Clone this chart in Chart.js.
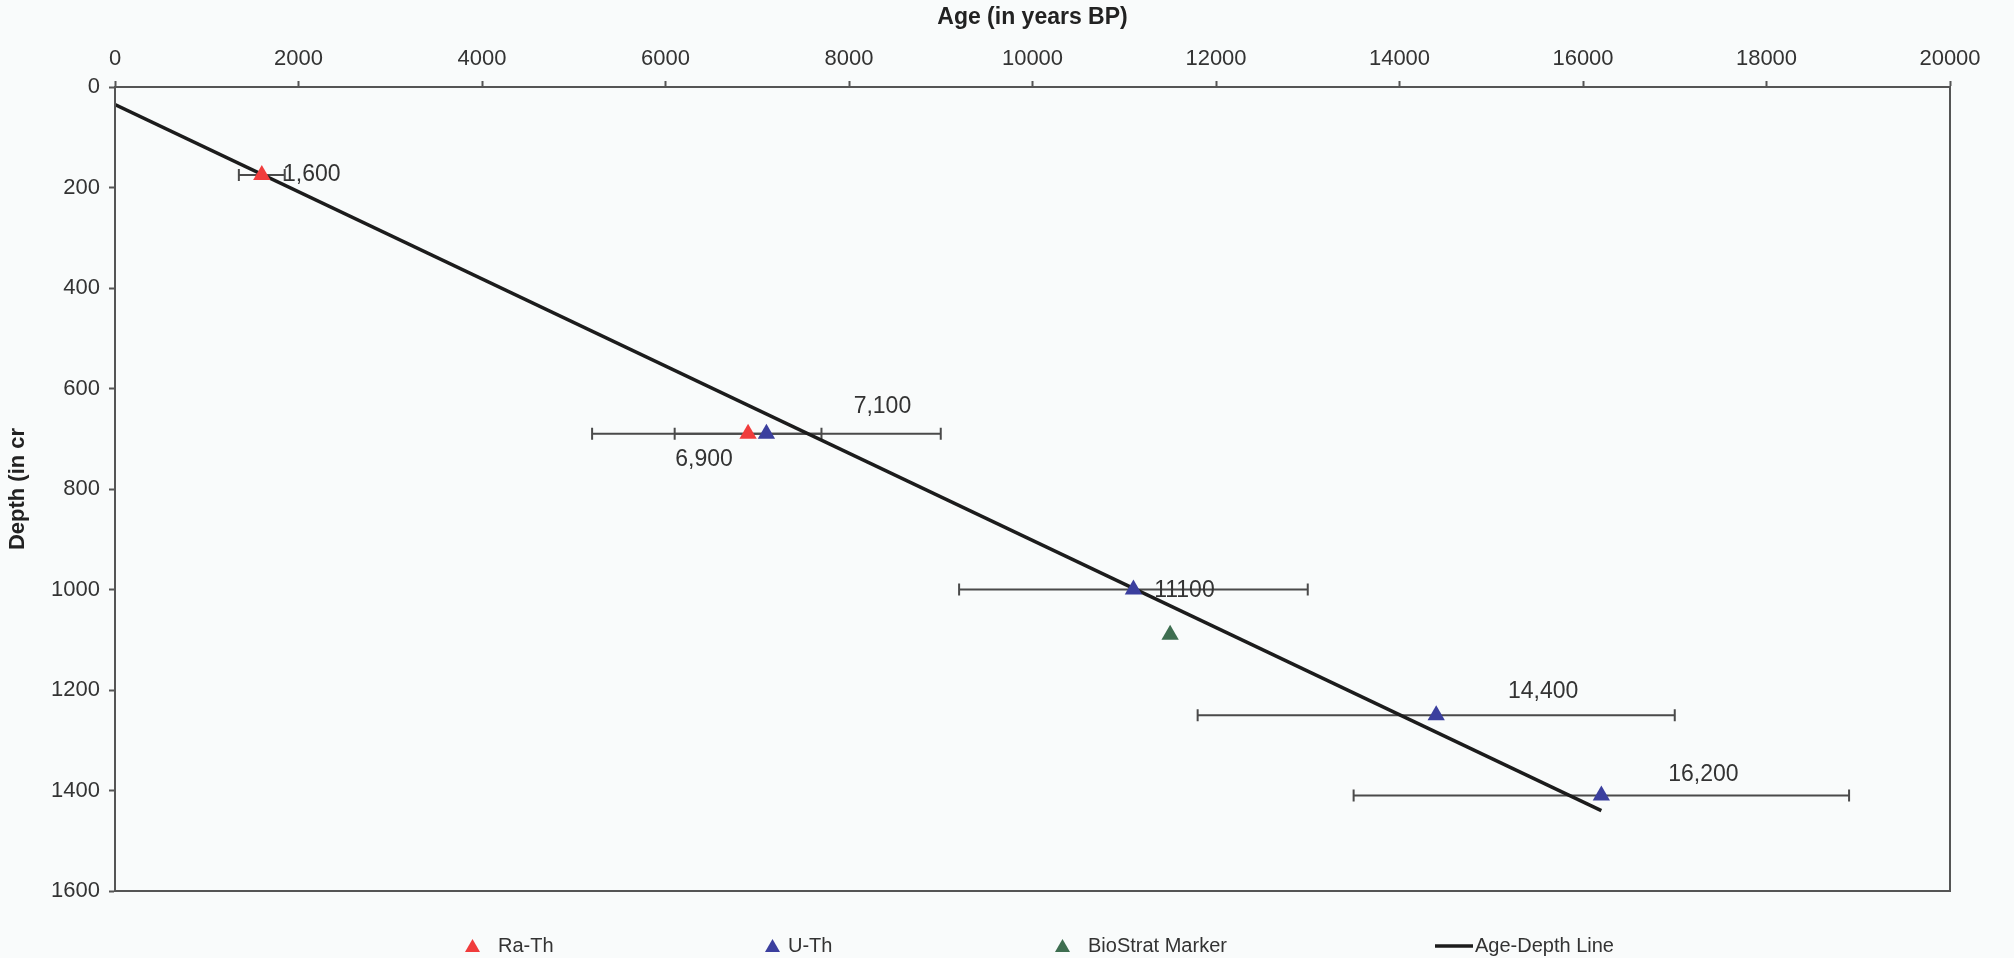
<!DOCTYPE html>
<html>
<head>
<meta charset="utf-8">
<title>Age-Depth model</title>
<script src="https://cdn.jsdelivr.net/npm/chart.js@4.4.1/dist/chart.umd.min.js"></script>
<style>
  html, body { margin: 0; padding: 0; background: #f9fbfb; }
  #wrap { width: 2014px; height: 958px; }
</style>
</head>
<body>
<div id="wrap"><canvas id="ageChart" width="2014" height="958"></canvas></div>
<script>
// axis ticks
const ageTicks = [0, 2000, 4000, 6000, 8000, 10000, 12000, 14000, 16000, 18000, 20000];
const depthTicks = [0, 200, 400, 600, 800, 1000, 1200, 1400, 1600];

// Ra-Th dates: age (yr BP), depth (cm), +/- age error, label
const raThAge = [1600, 6900];
const raThDepth = [175, 690];
const raThErr = [250, 800];
const raThLabels = ["1,600", "6,900"];

// U-Th dates
const uThAge = [7100, 11100, 14400, 16200];
const uThDepth = [690, 1000, 1250, 1410];
const uThErr = [1900, 1900, 2600, 2700];
const uThLabels = ["7,100", "11100", "14,400", "16,200"];

// biostratigraphic marker
const bioAge = [11500];
const bioDepth = [1090];

// fitted age-depth line
const lineAge = [0, 16200];
const lineDepth = [35, 1440];

const toPoints = (xs, ys) => xs.map((x, i) => ({ x: x, y: ys[i] }));

Chart.defaults.font.family = "'Liberation Sans', Arial, sans-serif";
Chart.defaults.color = "#333";

// horizontal error bars, drawn under the markers
const errorBars = {
    id: "errorBars",
    beforeDatasetsDraw(chart) {
        const ctx = chart.ctx;
        const xs = chart.scales.x, ys = chart.scales.y;
        ctx.save();
        ctx.strokeStyle = "#4a4a4a";
        ctx.lineWidth = 2;
        chart.data.datasets.forEach(ds => {
            if (!ds.xErr) return;
            ds.data.forEach((p, j) => {
                const y = ys.getPixelForValue(p.y);
                const x1 = xs.getPixelForValue(p.x - ds.xErr[j]);
                const x2 = xs.getPixelForValue(p.x + ds.xErr[j]);
                ctx.beginPath();
                ctx.moveTo(x1, y); ctx.lineTo(x2, y);
                ctx.moveTo(x1, y - 6); ctx.lineTo(x1, y + 6);
                ctx.moveTo(x2, y - 6); ctx.lineTo(x2, y + 6);
                ctx.stroke();
            });
        });
        ctx.restore();
    }
};

// value labels next to the dated points
const pointLabels = {
    id: "pointLabels",
    afterDatasetsDraw(chart, args, opts) {
        const ctx = chart.ctx;
        ctx.save();
        ctx.font = "23px 'Liberation Sans', Arial, sans-serif";
        ctx.fillStyle = "#333";
        ctx.textAlign = "center";
        ctx.textBaseline = "middle";
        chart.data.datasets.forEach((ds, i) => {
            if (!ds.pointLabels) return;
            const meta = chart.getDatasetMeta(i);
            meta.data.forEach((pt, j) => {
                const off = opts.offsets[ds.label][j];
                ctx.fillText(ds.pointLabels[j], pt.x + off[0], pt.y + off[1]);
            });
        });
        ctx.restore();
    }
};

// plot frame + legend along the bottom
const frameLegend = {
    id: "frameLegend",
    afterDraw(chart, args, opts) {
        const ctx = chart.ctx;
        const a = chart.chartArea;
        ctx.save();
        ctx.strokeStyle = "#555";
        ctx.lineWidth = 2;
        ctx.strokeRect(a.left, a.top, a.right - a.left, a.bottom - a.top);

        ctx.font = "20px 'Liberation Sans', Arial, sans-serif";
        ctx.textBaseline = "middle";
        ctx.textAlign = "left";
        const y = opts.y;
        chart.data.datasets.forEach((ds, i) => {
            const x0 = opts.x[i];
            if (ds.showLine) {
                ctx.strokeStyle = ds.borderColor;
                ctx.lineWidth = 3.5;
                ctx.beginPath();
                ctx.moveTo(x0, y); ctx.lineTo(x0 + 38, y);
                ctx.stroke();
                ctx.fillStyle = "#333";
                ctx.fillText(ds.label, x0 + 40, y);
            } else {
                ctx.fillStyle = ds.backgroundColor;
                ctx.beginPath();
                ctx.moveTo(x0 + 7.5, y - 7);
                ctx.lineTo(x0 + 15, y + 6);
                ctx.lineTo(x0, y + 6);
                ctx.closePath();
                ctx.fill();
                ctx.fillStyle = "#333";
                ctx.fillText(ds.label, x0 + opts.gap[i], y);
            }
        });
        ctx.restore();
    }
};

const ctx = document.getElementById("ageChart").getContext("2d");
new Chart(ctx, {
    type: "scatter",
    data: {
        datasets: [
            {
                label: "Ra-Th",
                data: toPoints(raThAge, raThDepth),
                xErr: raThErr,
                pointLabels: raThLabels,
                pointStyle: "triangle",
                pointRadius: 10,
                borderWidth: 0,
                backgroundColor: "#f03c3c",
                borderColor: "#f03c3c"
            },
            {
                label: "U-Th",
                data: toPoints(uThAge, uThDepth),
                xErr: uThErr,
                pointLabels: uThLabels,
                pointStyle: "triangle",
                pointRadius: 10,
                borderWidth: 0,
                backgroundColor: "#3b3f9e",
                borderColor: "#3b3f9e"
            },
            {
                label: "BioStrat Marker",
                data: toPoints(bioAge, bioDepth),
                pointStyle: "triangle",
                pointRadius: 10,
                borderWidth: 0,
                backgroundColor: "#3e6e50",
                borderColor: "#3e6e50"
            },
            {
                label: "Age-Depth Line",
                data: toPoints(lineAge, lineDepth),
                showLine: true,
                pointRadius: 0,
                borderColor: "#1c1c1c",
                borderWidth: 3.5,
                fill: false
            }
        ]
    },
    options: {
        responsive: false,
        animation: false,
        layout: { padding: { top: 0, left: 0, right: 64, bottom: 67 } },
        scales: {
            x: {
                type: "linear",
                position: "top",
                min: 0,
                max: 20000,
                afterBuildTicks: s => { s.ticks = ageTicks.map(v => ({ value: v })); },
                afterFit: s => { s.height = 87; },
                ticks: {
                    font: { size: 22 }, color: "#333", padding: 9, maxRotation: 0, autoSkip: false,
                    callback: v => String(v)
                },
                grid: { drawOnChartArea: false, tickLength: 6, tickColor: "#555", tickWidth: 2 },
                border: { color: "#555", width: 2 },
                title: {
                    display: true,
                    text: "Age (in years BP)",
                    color: "#222",
                    font: { size: 23, weight: "bold" },
                    padding: { top: 4, bottom: 0 }
                }
            },
            y: {
                type: "linear",
                position: "left",
                reverse: true,
                min: 0,
                max: 1600,
                afterBuildTicks: s => { s.ticks = depthTicks.map(v => ({ value: v })); },
                afterFit: s => { s.width = 115; },
                ticks: {
                    font: { size: 22 }, color: "#333", padding: 9, autoSkip: false,
                    callback: v => String(v)
                },
                grid: { drawOnChartArea: false, tickLength: 6, tickColor: "#555", tickWidth: 2 },
                border: { color: "#555", width: 2 },
                title: {
                    display: true,
                    text: "Depth (in cr",
                    color: "#222",
                    font: { size: 22, weight: "bold" },
                    padding: { top: 5, bottom: 0 }
                }
            }
        },
        plugins: {
            legend: { display: false },
            tooltip: { enabled: false },
            pointLabels: {
                offsets: {
                    "Ra-Th": [[50, 0], [-44, 26]],
                    "U-Th": [[116, -27], [51, 1], [107, -23], [102, -21]]
                }
            },
            frameLegend: {
                y: 946,
                x: [465, 765, 1055, 1435],
                gap: [33, 23, 33, 0]
            }
        }
    },
    plugins: [errorBars, pointLabels, frameLegend]
});
</script>
</body>
</html>
